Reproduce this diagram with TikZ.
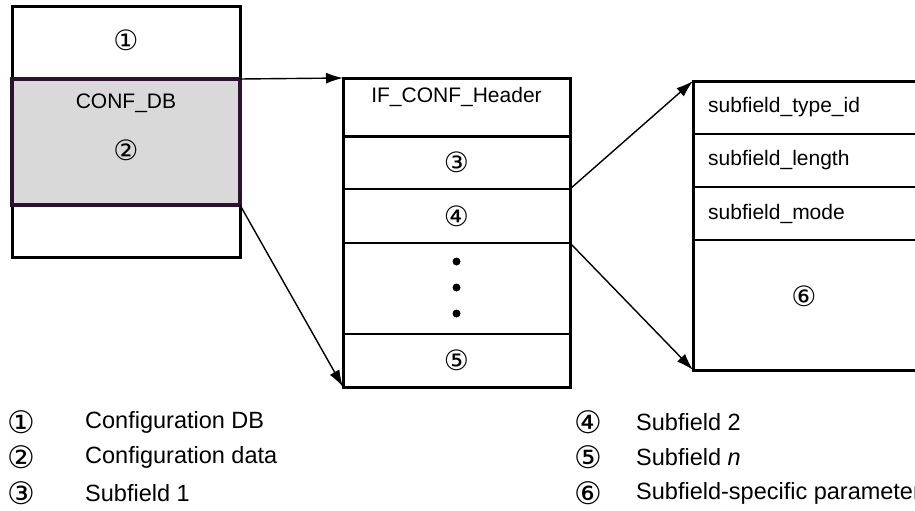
\documentclass[tikz,border=0pt]{standalone}
\usepackage{fontspec}
\setmainfont{Liberation Sans}
\newfontfamily\circfont{DejaVu Sans}
\usetikzlibrary{arrows.meta,positioning}
\definecolor{dbline}{HTML}{2E1030}
\definecolor{dbfill}{HTML}{D9D9D9}
\newcommand{\cnum}[1]{{\circfont\fontsize{28}{28}\selectfont #1}}
\newcommand{\lnum}[1]{{\circfont\fontsize{31}{31}\selectfont #1}}

\begin{document}
\begin{tikzpicture}[x=1pt,y=-1pt,
  field/.style={draw,line width=2.2pt,inner sep=0pt,outer sep=0pt,anchor=north west},
  txt/.style={inner sep=0pt,font=\fontsize{21}{25}\selectfont},
  leg/.style={inner sep=0pt,anchor=west,font=\fontsize{23.5}{28}\selectfont},
  arr/.style={-{Latex[length=17pt,width=11pt]},line width=1.4pt}]
\useasboundingbox (0,0) rectangle (915,511);
\clip (0,0) rectangle (915,511);
% configuration DB
\node[field,minimum width=228pt,minimum height=72pt] (db1) at (12,7) {};
\node[field,minimum width=228pt,minimum height=126pt,fill=dbfill,below=0pt of db1] (db2) {};
\node[field,minimum width=228pt,minimum height=52pt,below=0pt of db2] (db3) {};
\draw[line width=3pt] (db1.north west) rectangle (db3.south east);
\draw[dbline,line width=3.5pt] (db2.north west) rectangle (db2.south east);
\node[txt] (dbone) at ([yshift=-33pt]db1.north) {\cnum{①}};
\node[txt] (dbname) at ([yshift=-24pt]db2.north) {CONF\_DB};
\node[txt] (dbtwo) at ([yshift=-71pt]db2.north) {\cnum{②}};
% IF_CONF structure
\node[field,minimum width=227pt,minimum height=58pt] (hdr) at (343,78) {};
\node[field,minimum width=227pt,minimum height=53pt,below=0pt of hdr] (sf1) {};
\node[field,minimum width=227pt,minimum height=54pt,below=0pt of sf1] (sf2) {};
\node[field,minimum width=227pt,minimum height=91pt,below=0pt of sf2] (sfdots) {};
\node[field,minimum width=227pt,minimum height=53pt,below=0pt of sfdots] (sfn) {};
\draw[line width=3pt] (hdr.north west) rectangle (sfn.south east);
\draw[line width=3pt] (hdr.south west) -- (hdr.south east);
\node[txt] (hdrname) at ([yshift=-19pt]hdr.north) {IF\_CONF\_Header};
\node[txt] (sfone) at (sf1.center) {\cnum{③}};
\node[txt] (sftwo) at (sf2.center) {\cnum{④}};
\node[txt] (sfnum) at (sfn.center) {\cnum{⑤}};
\foreach \i/\dy in {1/27,2/1,3/-25}
  \node[circle,fill,inner sep=0pt,minimum size=8pt] (dot\i) at ([yshift=\dy pt]sfdots.center) {};
% subfield layout
\node[field,minimum width=226pt,minimum height=53pt] (stype) at (693,81) {};
\node[field,minimum width=226pt,minimum height=53pt,below=0pt of stype] (slen) {};
\node[field,minimum width=226pt,minimum height=53pt,below=0pt of slen] (smode) {};
\node[field,minimum width=226pt,minimum height=130pt,below=0pt of smode] (sparam) {};
\draw[line width=3pt] (stype.north west) rectangle (sparam.south east);
\node[txt,right=15pt of stype.west] (stypename) {subfield\_type\_id};
\node[txt,right=15pt of slen.west] (slenname) {subfield\_length};
\node[txt,right=15pt of smode.west] (smodename) {subfield\_mode};
\node[txt] (sparamnum) at ([xshift=-2pt,yshift=9pt]sparam.center) {\cnum{⑥}};
% connectors
\draw[arr] (db2.north east) -- (hdr.north west);
\draw[arr] (db2.south east) -- (sfn.south west);
\draw[arr] (sf1.south east) -- (stype.north west);
\draw[arr] (sf2.south east) -- (sparam.south west);
% legend
\foreach \n/\t [count=\k from 0] in {①/Configuration DB,②/Configuration data,③/Subfield 1}{
  \node[inner sep=0pt] (lnum\k) at (21,422+35.5*\k) {\lnum{\n}};
  \node[leg] (ltxt\k) at (85,422+35.5*\k) {\t};
}
\foreach \n/\t [count=\k from 0] in {④/Subfield 2,⑤/Subfield \textit{n},⑥/Subfield-specific parameters}{
  \node[inner sep=0pt] (rnum\k) at (588,422+35.5*\k) {\lnum{\n}};
  \node[leg] (rtxt\k) at (636,422+35.5*\k) {\t};
}
\end{tikzpicture}
\end{document}
